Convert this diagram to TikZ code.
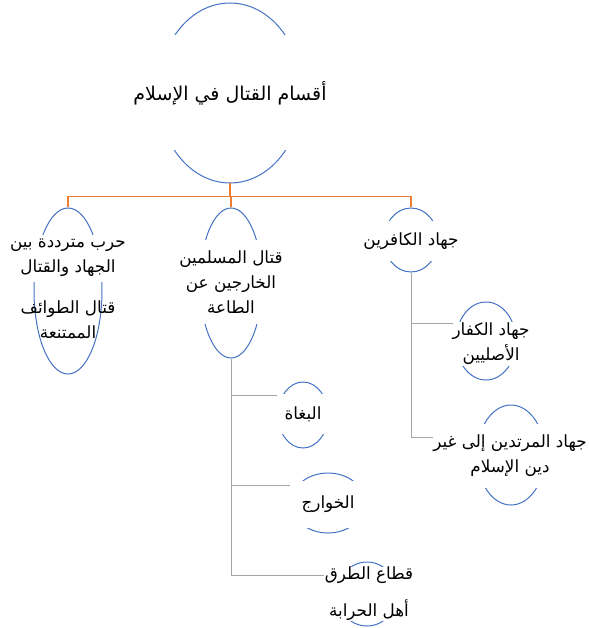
\documentclass[tikz,border=0pt]{standalone}
\usepackage{fontspec}
\usetikzlibrary{shapes.geometric}
\newfontfamily\arfont[Script=Arabic]{DejaVu Sans}
\TeXXeTstate=1
\definecolor{ellblue}{HTML}{4472C4}
\definecolor{orgline}{HTML}{ED7D31}
\definecolor{grayline}{HTML}{A5A5A5}
\newcommand{\AR}[1]{\beginR #1\endR}
\begin{document}
\begin{tikzpicture}[x=1pt,y=-1pt,
  ell/.style={draw=ellblue, line width=1pt, ellipse, inner sep=0pt},
  lbl/.style={font=\arfont\fontsize{16.8}{25}\selectfont, align=center, inner sep=0pt},
  cover/.style={lbl, fill=white},
  tree/.style={draw=orgline, line width=1.3pt},
  sub/.style={draw=grayline, line width=1pt}]
\useasboundingbox[fill=white] (0,0) rectangle (588,628);

% free ends of the grey connectors
\coordinate (b1) at (455,323);
\coordinate (b2) at (440,437);
\coordinate (b3) at (283,395);
\coordinate (b4) at (300,485);
\coordinate (b5) at (325,575);

% ellipses
\node[ell, minimum width=144, minimum height=180] (root) at (230,93) {};
\node[ell, minimum width=68, minimum height=166] (c1) at (68,291) {};
\node[ell, minimum width=62, minimum height=150] (c2) at (231,283) {};
\node[ell, minimum width=54, minimum height=64] (c3) at (411,240) {};
\node[ell, minimum width=60, minimum height=78] (s1) at (486,341) {};
\node[ell, minimum width=68, minimum height=100] (s2) at (511,455) {};
\node[ell, minimum width=50, minimum height=66] (m1) at (303,415) {};
\node[ell, minimum width=74, minimum height=60] (m2) at (328,503) {};
\node[ell, minimum width=60, minimum height=64] (m3) at (367,594) {};

% connectors
\draw[tree] (root.south) -- ++(0,13) -| (c1.north);
\draw[tree] (root.south) -- ++(0,13) -| (c2.north);
\draw[tree] (root.south) -- ++(0,13) -| (c3.north);
\draw[sub] (c3.south) |- (b1);
\draw[sub] (c3.south) |- (b2);
\draw[sub] (c2.south) |- (b3);
\draw[sub] (c2.south) |- (b4);
\draw[sub] (c2.south) |- (b5);

% texts
\node[cover, minimum width=200, minimum height=115, font=\arfont\fontsize{19}{22}\selectfont] (roott) at (230,93) {\AR{أقسام القتال في الإسلام}};
\node[cover, minimum width=122, minimum height=47] (c1t) at (68,258) {\AR{حرب مترددة بين}\\\AR{الجهاد والقتال}};
\node[lbl] (c1u) at (68,320) {\AR{قتال الطوائف}\\\AR{الممتنعة}};
\node[cover, minimum width=100, minimum height=84] (c2t) at (231,282) {\AR{قتال المسلمين}\\\AR{الخارجين عن}\\\AR{الطاعة}};
\node[cover, minimum width=96, minimum height=40] (c3t) at (411,241) {\AR{جهاد الكافرين}};
\node[cover, minimum width=72, minimum height=44] (s1t) at (491,344) {\AR{جهاد الكفار}\\\AR{الأصليين}};
\node[cover, minimum width=80, minimum height=64] (s2t) at (510,456) {\AR{جهاد المرتدين إلى غير}\\\AR{دين الإسلام}};
\node[cover, minimum width=52, minimum height=40] (m1t) at (303,414) {\AR{البغاة}};
\node[cover, minimum width=76, minimum height=47] (m2t) at (328,504) {\AR{الخوارج}};
\node[cover, minimum width=90, minimum height=54, font=\arfont\fontsize{16.8}{37}\selectfont] (m3t) at (369,594) {\AR{قطاع الطرق}\\\AR{أهل الحرابة}};
\end{tikzpicture}
\end{document}
